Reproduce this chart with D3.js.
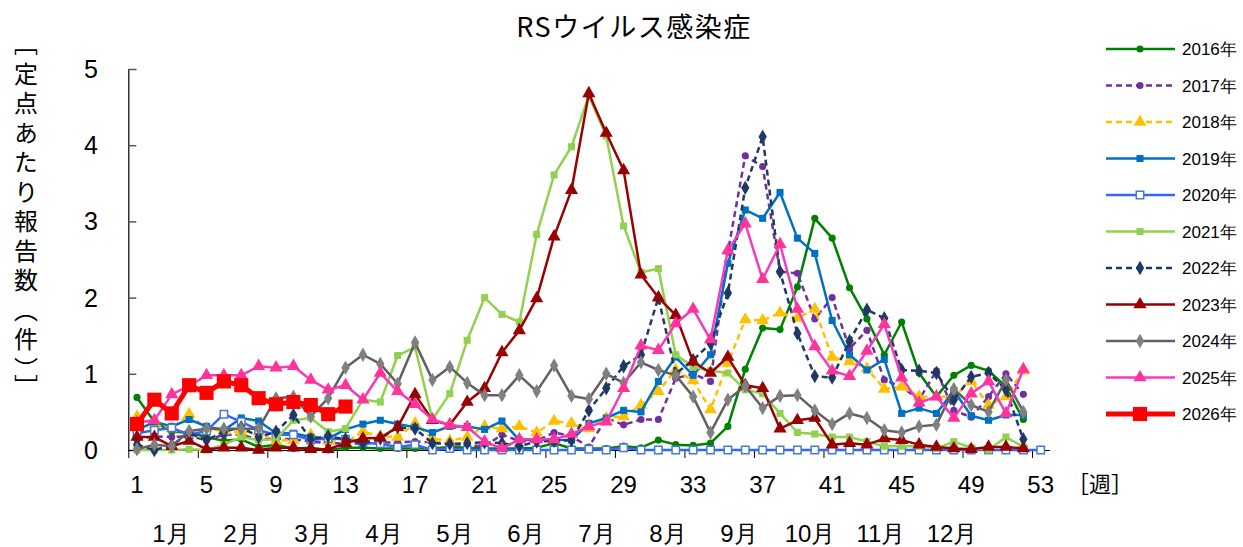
<!DOCTYPE html>
<html>
<head>
<meta charset="utf-8">
<script src="https://cdn.jsdelivr.net/npm/d3@7"></script>
<style>
  html, body { margin: 0; padding: 0; background: #fff; }
  svg text { fill: #000; }
</style>
</head>
<body>
<svg id="chart" width="1243" height="547"></svg>
<script>
// ---- data ----
var xTickLabels = ["1","5","9","13","17","21","25","29","33","37","41","45","49","53"];
var monthLabels = ["1月","2月","3月","4月","5月","6月","7月","8月","9月","10月","11月","12月"];
var yTicks = [0, 1, 2, 3, 4, 5];

var y2016 = [0.69,0.37,0.24,0.23,0.17,0.12,0.14,0.04,0.07,0.02, 0.03,0.00,0.03,0.03,0.02,0.02,0.02,0.02,0.04,0.03,
             0.02,0.02,0.02,0.03,0.09,0.02,0.02,0.02,0.05,0.03, 0.13,0.07,0.06,0.09,0.31,1.06,1.60,1.58,2.14,3.04,
             2.78,2.13,1.72,1.25,1.68,1.01,0.70,0.98,1.11,1.04,0.83,0.40];
var y2017 = [0.14,0.18,0.17,0.18,0.13,0.20,0.20,0.14,0.15,0.14, 0.11,0.09,0.09,0.08,0.10,0.10,0.11,0.10,0.08,0.06,
             0.05,0.20,0.12,0.12,0.23,0.18,0.04,0.42,0.33,0.40, 0.40,0.94,1.00,0.90,2.60,3.86,3.72,2.34,2.32,1.72,
             2.00,1.33,1.57,0.92,0.83,0.66,1.04,0.52,0.43,0.70,1.00,0.73];
var y2018 = [0.44,0.33,0.28,0.47,0.28,0.25,0.24,0.24,0.12,0.13, 0.20,0.12,0.10,0.24,0.18,0.17,0.35,0.15,0.12,0.17,
             0.31,0.28,0.31,0.23,0.38,0.35,0.28,0.42,0.44,0.59, 0.77,1.05,0.91,0.53,1.14,1.71,1.70,1.80,1.73,1.85,
             1.22,1.16,1.07,0.80,0.83,0.70,0.70,0.70,0.90,0.59,0.70,1.04];
var y2019 = [0.26,0.37,0.31,0.40,0.31,0.26,0.42,0.38,0.22,0.22, 0.17,0.15,0.27,0.34,0.39,0.34,0.30,0.23,0.31,0.31,
             0.27,0.38,0.13,0.13,0.13,0.13,0.35,0.42,0.52,0.50, 0.90,1.22,0.98,1.25,2.45,3.15,3.04,3.38,2.78,2.58,
             1.70,1.25,1.05,1.19,0.48,0.55,0.48,0.78,0.45,0.39,0.46,0.46];
var y2020 = [0.22,0.26,0.29,0.20,0.25,0.47,0.37,0.26,0.20,0.20, 0.13,0.15,0.14,0.10,0.08,0.04,0.07,0.00,0.02,0.00,
             0.00,0.00,0.00,0.00,0.00,0.00,0.01,0.00,0.03,0.00, 0.00,0.00,0.00,0.00,0.00,0.00,0.00,0.00,0.00,0.00,
             0.00,0.00,0.00,0.00,0.00,0.00,0.00,0.00,0.00,0.00, 0.00,0.00,0.00];
var y2021 = [0.00,0.00,0.00,0.01,0.00,0.07,0.17,0.13,0.14,0.39, 0.42,0.24,0.28,0.66,0.63,1.24,1.35,0.40,0.74,1.44,
             2.00,1.78,1.68,2.83,3.61,3.98,4.65,4.12,2.94,2.33, 2.38,1.25,1.09,1.04,1.01,0.79,0.74,0.48,0.23,0.21,
             0.17,0.17,0.11,0.05,0.05,0.05,0.02,0.11,0.03,0.00,0.17,0.04];
var y2022 = [0.07,0.00,0.06,0.22,0.13,0.24,0.30,0.17,0.24,0.46, 0.14,0.18,0.14,0.09,0.15,0.30,0.28,0.09,0.08,0.09,
             0.10,0.09,0.05,0.11,0.12,0.13,0.52,0.81,1.10,1.25, 2.00,1.00,1.18,1.40,2.06,3.44,4.11,2.34,1.53,0.97,
             0.95,1.43,1.84,1.73,1.05,1.04,1.01,0.66,0.96,1.01,0.79,0.14];
var y2023 = [0.17,0.17,0.05,0.12,0.01,0.03,0.03,0.00,0.03,0.03, 0.01,0.01,0.09,0.15,0.16,0.30,0.73,0.39,0.33,0.63,
             0.81,1.28,1.57,1.99,2.80,3.41,4.68,4.16,3.67,2.30, 2.00,1.77,1.16,1.01,1.22,0.85,0.81,0.28,0.39,0.42,
             0.07,0.09,0.07,0.15,0.13,0.07,0.04,0.02,0.01,0.04,0.04,0.02];
var y2024 = [0.01,0.07,0.05,0.25,0.28,0.28,0.28,0.28,0.68,0.70, 0.44,0.68,1.08,1.25,1.13,0.87,1.41,0.92,1.09,0.88,
             0.72,0.72,0.98,0.77,1.11,0.71,0.67,1.00,0.88,1.15, 1.05,0.98,0.70,0.23,0.66,0.84,0.55,0.71,0.72,0.52,
             0.34,0.48,0.42,0.26,0.23,0.31,0.33,0.80,0.59,0.50,0.92,0.50];
var y2025 = [0.36,0.39,0.73,0.84,0.98,0.98,0.98,1.10,1.08,1.10, 0.92,0.79,0.85,0.66,1.01,0.77,0.60,0.40,0.33,0.30,
             0.11,0.02,0.14,0.14,0.14,0.21,0.31,0.37,0.81,1.37, 1.31,1.66,1.85,1.45,2.62,2.97,2.24,2.70,1.85,1.36,
             1.04,0.97,1.30,1.65,0.95,0.62,0.70,0.42,0.74,0.90,0.48,1.06];
var y2026 = [0.34,0.66,0.48,0.85,0.75,0.90,0.85,0.68,0.60,0.63, 0.59,0.47,0.57];

var seriesNames = ["2016年","2017年","2018年","2019年","2020年","2021年","2022年","2023年","2024年","2025年","2026年"];
var seriesValues = [y2016, y2017, y2018, y2019, y2020, y2021, y2022, y2023, y2024, y2025, y2026];

// ---- styles ----
var styles = [
  {color: "#008000", dash: null,  marker: "circle",   size: 40,  mfill: "#008000", mstroke: "none", lw: 2.5},
  {color: "#7030A0", dash: "6,4", marker: "circle",   size: 40,  mfill: "#7030A0", mstroke: "none", lw: 2.5},
  {color: "#FFC000", dash: "6,4", marker: "triangle", size: 70,  mfill: "#FFC000", mstroke: "none", lw: 2.5},
  {color: "#0070C0", dash: null,  marker: "square",   size: 50,  mfill: "#0070C0", mstroke: "none", lw: 2.5},
  {color: "#3366FF", dash: null,  marker: "square",   size: 55,  mfill: "#ffffff", mstroke: "#4A7AC8", lw: 2.5},
  {color: "#92D050", dash: null,  marker: "square",   size: 50,  mfill: "#92D050", mstroke: "none", lw: 2.5},
  {color: "#1F3864", dash: "6,4", marker: "diamond",  size: 60,  mfill: "#1F3864", mstroke: "none", lw: 2.5},
  {color: "#990000", dash: null,  marker: "triangle", size: 75,  mfill: "#990000", mstroke: "none", lw: 2.5},
  {color: "#606060", dash: null,  marker: "diamond",  size: 60,  mfill: "#808080", mstroke: "none", lw: 2.5},
  {color: "#F23CC0", dash: null,  marker: "triangle", size: 75,  mfill: "#FF3399", mstroke: "none", lw: 2.5},
  {color: "#FF0000", dash: null,  marker: "square",   size: 200, mfill: "#FF0000", mstroke: "none", lw: 5}
];
var symbolTypes = {circle: d3.symbolCircle, square: d3.symbolSquare, triangle: d3.symbolTriangle, diamond: d3.symbolDiamond};

var numFont = "'Liberation Sans Narrow', 'Arial Narrow', 'Liberation Sans', sans-serif";
var jpFont = "'Noto Sans CJK JP', sans-serif";

var svg = d3.select("#chart");

// week axis: 53 categories
var x = d3.scaleLinear().domain([0.5, 53.5]).range([128.3, 1049.4]);
var y = d3.scaleLinear().domain([0, 5]).range([450, 69]);

// title
svg.append("text")
  .attr("x", 634).attr("y", 37)
  .attr("text-anchor", "middle")
  .style("font-family", jpFont)
  .style("font-size", "27px")
  .style("letter-spacing", "1.5px")
  .text("RSウイルス感染症");

// y axis
var yAxis = svg.append("g").attr("transform", "translate(" + x(0.5) + ",0)")
  .call(d3.axisRight(y).tickValues(yTicks).tickSize(8).tickFormat(""));
yAxis.select(".domain").attr("stroke", "#000").attr("stroke-width", 1.2);
yAxis.selectAll(".tick line").attr("stroke", "#555").attr("stroke-width", 1.5);

svg.append("g").selectAll("text").data(yTicks).enter().append("text")
  .attr("x", 91).attr("y", function(d){ return y(d); })
  .attr("dy", "0.36em")
  .attr("text-anchor", "middle")
  .style("font-family", numFont)
  .style("font-size", "25px")
  .text(function(d){ return d; });

// y axis title (vertical)
svg.append("text")
  .attr("x", 26).attr("y", 218)
  .attr("text-anchor", "middle")
  .style("writing-mode", "vertical-rl")
  .style("font-family", jpFont)
  .style("font-size", "24px")
  .style("letter-spacing", "5.5px")
  .text("［定点あたり報告数（件）］");

// x axis
var tickPos = xTickLabels.map(function(d){ return +d - 0.5; });
var xAxis = svg.append("g").attr("transform", "translate(0," + y(0) + ")")
  .call(d3.axisBottom(x).tickValues(tickPos).tickSize(8).tickSizeOuter(0).tickFormat(""));
xAxis.select(".domain").attr("stroke", "#000").attr("stroke-width", 1.2);
xAxis.selectAll(".tick line").attr("stroke", "#000").attr("stroke-width", 1);

svg.append("g").selectAll("text").data(xTickLabels).enter().append("text")
  .attr("x", function(d){ return x(+d); })
  .attr("y", 484)
  .attr("dy", "0.36em")
  .attr("text-anchor", "middle")
  .style("font-family", numFont)
  .style("font-size", "24px")
  .text(function(d){ return d; });

svg.append("text")
  .attr("x", 1100).attr("y", 484).attr("dy", "0.36em")
  .attr("text-anchor", "middle")
  .style("font-family", jpFont)
  .style("font-size", "22px")
  .text("［週］");

var monthScale = d3.scalePoint().domain(monthLabels).range([171, 952]);
svg.append("g").selectAll("text").data(monthLabels).enter().append("text")
  .attr("x", function(d){ return monthScale(d); })
  .attr("y", 533).attr("dy", "0.36em")
  .attr("text-anchor", "middle")
  .style("font-family", numFont)
  .style("font-size", "24px")
  .text(function(d){ return d; });

// series
var line = d3.line()
  .x(function(d, i){ return x(i + 1); })
  .y(function(d){ return y(d); });

var plot = svg.append("g");
seriesValues.forEach(function(vals, k){
  var st = styles[k];
  var g = plot.append("g").attr("class", "series");
  g.append("path")
    .datum(vals)
    .attr("d", line)
    .attr("fill", "none")
    .attr("stroke", st.color)
    .attr("stroke-width", st.lw)
    .attr("stroke-linejoin", "round")
    .attr("stroke-dasharray", st.dash);
  var sym = d3.symbol().type(symbolTypes[st.marker]).size(st.size);
  g.selectAll("path.m").data(vals).enter().append("path")
    .attr("class", "m")
    .attr("d", sym)
    .attr("transform", function(d, i){ return "translate(" + x(i + 1) + "," + y(d) + ")"; })
    .attr("fill", st.mfill)
    .attr("stroke", st.mstroke)
    .attr("stroke-width", 1.5);
});

// legend
var legend = svg.append("g");
var legendY = d3.scalePoint().domain(seriesNames).range([49, 414]);
seriesNames.forEach(function(name, k){
  var st = styles[k];
  var ly = legendY(name);
  var row = legend.append("g");
  row.append("line")
    .attr("x1", 1106).attr("x2", 1175).attr("y1", ly).attr("y2", ly)
    .attr("stroke", st.color)
    .attr("stroke-width", st.lw)
    .attr("stroke-dasharray", st.dash);
  row.append("path")
    .attr("d", d3.symbol().type(symbolTypes[st.marker]).size(st.size)())
    .attr("transform", "translate(1140," + ly + ")")
    .attr("fill", st.mfill)
    .attr("stroke", st.mstroke)
    .attr("stroke-width", 1.5);
  row.append("text")
    .attr("x", 1182).attr("y", ly).attr("dy", "0.36em")
    .style("font-family", numFont)
    .style("font-size", "17px")
    .text(name);
});
</script>
</body>
</html>
